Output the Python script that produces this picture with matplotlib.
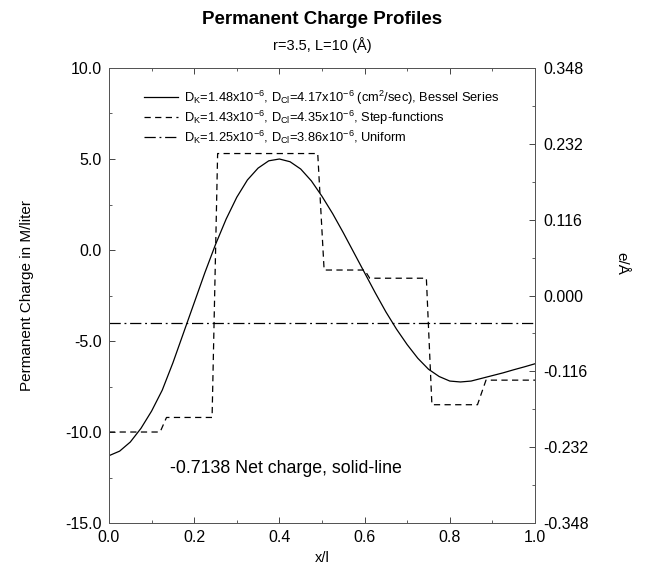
import matplotlib
matplotlib.use("Agg")
import matplotlib.pyplot as plt
from matplotlib.ticker import MultipleLocator, FixedLocator, AutoMinorLocator

plt.rcParams['font.family'] = ['Liberation Sans', 'DejaVu Sans']
plt.rcParams['mathtext.fontset'] = 'custom'
plt.rcParams['mathtext.rm'] = 'Liberation Sans'

# Bessel series profile (solid)
x_bessel = [0.000, 0.025, 0.050, 0.075, 0.100, 0.125, 0.150, 0.175, 0.200, 0.225,
            0.250, 0.275, 0.300, 0.325, 0.350, 0.375, 0.400, 0.425, 0.450, 0.475,
            0.500, 0.525, 0.550, 0.575, 0.600, 0.625, 0.650, 0.675, 0.700, 0.725,
            0.750, 0.775, 0.800, 0.825, 0.850, 0.875, 0.900, 0.925, 0.950, 0.975, 1.000]
y_bessel = [-11.30, -11.05, -10.55, -9.80, -8.85, -7.70, -6.20, -4.55, -2.90, -1.25,
            0.30, 1.70, 2.90, 3.85, 4.50, 4.90, 5.00, 4.85, 4.45, 3.80,
            2.95, 2.00, 0.95, -0.15, -1.25, -2.35, -3.40, -4.35, -5.20, -5.95,
            -6.55, -6.95, -7.20, -7.25, -7.20, -7.05, -6.90, -6.75, -6.58, -6.42, -6.25]

# step-function profile (dashed)
x_step = [0.0, 0.12, 0.135, 0.242, 0.255, 0.49, 0.505, 0.60, 0.612, 0.745, 0.758, 0.865, 0.885, 1.0]
y_step = [-10.0, -10.0, -9.2, -9.2, 5.3, 5.3, -1.1, -1.1, -1.55, -1.55, -8.5, -8.5, -7.15, -7.15]

# uniform profile (dash-dot)
x_uniform = [0.0, 1.0]
y_uniform = [-4.0, -4.0]

labels = [
    r'D$_{\rm K}$=1.48x10$^{-6}$, D$_{\rm Cl}$=4.17x10$^{-6}$ (cm$^{2}$/sec), Bessel Series',
    r'D$_{\rm K}$=1.43x10$^{-6}$, D$_{\rm Cl}$=4.35x10$^{-6}$, Step-functions',
    r'D$_{\rm K}$=1.25x10$^{-6}$, D$_{\rm Cl}$=3.86x10$^{-6}$, Uniform',
]
right_ticks = [-0.348, -0.232, -0.116, 0.000, 0.116, 0.232, 0.348]

fig = plt.figure(figsize=(6.48, 5.69), dpi=100)
ax = fig.add_axes([0.1682, 0.0808, 0.6574, 0.7997])

ax.plot(x_bessel, y_bessel, color='black', lw=0.9, label=labels[0])
ax.plot(x_step, y_step, color='black', lw=0.9, ls=(0, (5, 3.5)), label=labels[1])
ax.plot(x_uniform, y_uniform, color='black', lw=0.9, ls=(0, (9, 3, 1.5, 3)), label=labels[2])

ax.set_xlim(0, 1)
ax.set_ylim(-15, 10)
ax.xaxis.set_major_locator(MultipleLocator(0.2))
ax.xaxis.set_minor_locator(MultipleLocator(0.1))
ax.yaxis.set_major_locator(MultipleLocator(5))
ax.yaxis.set_minor_locator(MultipleLocator(2.5))
ax.xaxis.set_major_formatter(plt.FormatStrFormatter('%.1f'))
ax.yaxis.set_major_formatter(plt.FormatStrFormatter('%.1f'))
ax.tick_params(which='both', direction='in', top=True, labelsize=11.5, color='#444444')
ax.tick_params(which='major', length=4, width=0.7, pad=5)
ax.tick_params(which='minor', length=2.5, width=0.6)
for s in ax.spines.values():
    s.set_linewidth(0.7)
    s.set_color('#555555')

ax.set_xlabel('x/l', fontsize=10.5, labelpad=4)
ax.set_ylabel('Permanent Charge in M/liter', fontsize=11)
ax.yaxis.set_label_coords(-0.175, 0.5)

ax2 = ax.twinx()
ax2.set_ylim(-0.348, 0.348)
ax2.yaxis.set_major_locator(FixedLocator(right_ticks))
ax2.yaxis.set_minor_locator(AutoMinorLocator(2))
ax2.yaxis.set_major_formatter(plt.FormatStrFormatter('%.3f'))
ax2.tick_params(which='both', direction='in', labelsize=11.5, color='#444444')
ax2.tick_params(which='major', length=4, width=0.7, pad=6)
ax2.tick_params(which='minor', length=2.5, width=0.6)
for s in ax2.spines.values():
    s.set_linewidth(0.7)
    s.set_color('#555555')
ax2.set_ylabel('e/Å', fontsize=11, rotation=270)
ax2.yaxis.set_label_coords(1.22, 0.57)

leg = ax.legend(loc='upper left', bbox_to_anchor=(0.055, 0.98), frameon=False,
                fontsize=9.3, handlelength=2.6, handletextpad=0.5, labelspacing=0.12)

ax.text(0.143, -12.0, '-0.7138 Net charge, solid-line', fontsize=12.8, va='center')

fig.text(0.497, 0.966, 'Permanent Charge Profiles', ha='center', va='center',
         fontsize=13.5, fontweight='bold')
fig.text(0.497, 0.921, 'r=3.5, L=10 (Å)', ha='center', va='center', fontsize=10.5)

fig.savefig('out.png', dpi=100)
